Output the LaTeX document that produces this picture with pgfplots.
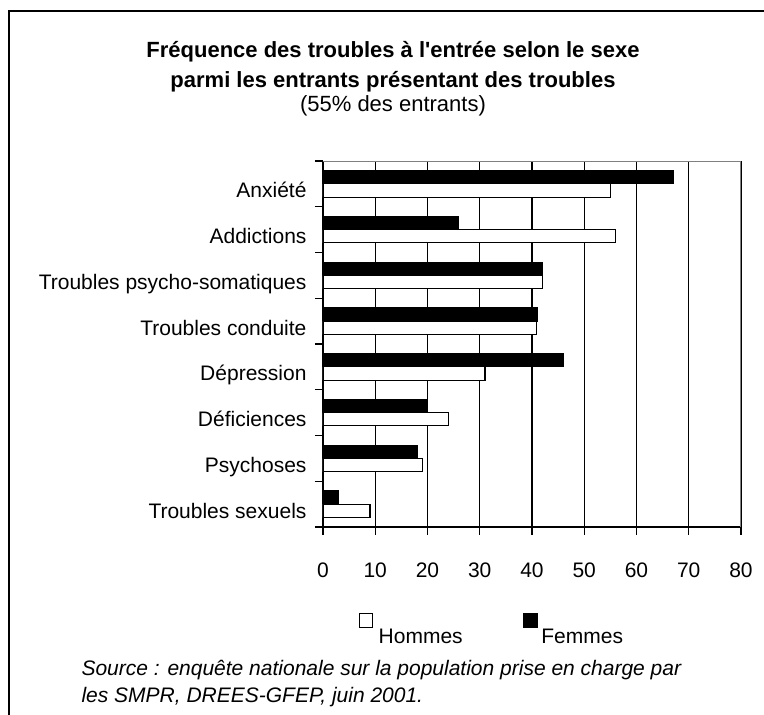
\documentclass[border=0pt]{standalone}
\usepackage{fontspec}
\setmainfont{Liberation Sans}
\usepackage{pgfplots}
\pgfplotsset{compat=1.18}
\newcommand\fs{\fontsize{21}{25}\selectfont}
\begin{document}
\begin{tikzpicture}
\useasboundingbox (0pt,0pt) rectangle (764pt,715pt);
\fill[white] (0pt,0pt) rectangle (764pt,715pt);
\draw[line width=2pt] (9pt,-5pt) -- (9pt,703.5pt) -- (770pt,703.5pt);
\node[anchor=base, font=\bfseries\fontsize{22}{26}\selectfont] at (393pt,657pt) {Fréquence des troubles à l\textquotesingle entrée selon le sexe};
\node[anchor=base, font=\bfseries\fontsize{22}{26}\selectfont] at (393pt,627pt) {parmi les entrants présentant des troubles};
\node[anchor=base, font=\fontsize{22}{26}\selectfont] at (393pt,603pt) {(55\% des entrants)};
\node[anchor=base west, font=\itshape\fs] at (78pt,39pt) {Source : enquête nationale sur la population prise en charge par};
\node[anchor=base west, font=\itshape\fs] at (78pt,12pt) {les SMPR, DREES-GFEP, juin 2001.};
\begin{axis}[
  at={(323pt,188pt)}, anchor=south west,
  width=418pt, height=366pt, scale only axis,
  xmin=0, xmax=80, ymin=-0.5, ymax=7.5,
  axis x line*=bottom, axis y line*=left,
  axis line style={-, line width=1.2pt, black},
  xtick={0,10,...,80},
  xmajorgrids, grid style={black, line width=1.2pt},
  tick align=outside, major tick length=8pt,
  tick style={black, line width=1.2pt},
  /pgf/number format/assume math mode=true,
  tick label style={font=\fs},
  xticklabel style={anchor=base, yshift=-43pt},
  ytick={-0.5,0.5,...,7.5}, yticklabels={,,,,,,,,,},
  extra y ticks={0,1,2,3,4,5,6,7},
  extra y tick labels={Troubles sexuels, Psychoses, Déficiences, Dépression, Troubles conduite, Troubles psycho-somatiques, Addictions, Anxiété},
  extra y tick style={major tick length=0pt, yticklabel style={anchor=base east, yshift=-14pt, xshift=-13pt}},
  legend columns=2,
  legend style={draw=none, fill=none, inner sep=0pt, at={(0.086,-0.235)}, anchor=north west, font=\fs, /tikz/every even column/.append style={column sep=58pt}},
]
\addplot[xbar, bar width=0.29, bar shift=-0.145, fill=white, draw=black, line width=1.2pt,
  legend image code/.code={\draw[fill=white, draw=black, line width=1.2pt] (0pt,9pt) rectangle (13pt,23pt); \path[draw=none, fill=none] (13pt,9pt) -- (17pt,9pt);}]
  coordinates {(9,0) (19,1) (24,2) (31,3) (40.8,4) (42,5) (56,6) (55,7)};
\addlegendentry{Hommes}
\addplot[xbar, bar width=0.29, bar shift=0.145, fill=black, draw=black, line width=1.2pt,
  legend image code/.code={\draw[fill=black, draw=black, line width=1.2pt] (0pt,9pt) rectangle (14pt,23pt); \path[draw=none, fill=none] (14pt,9pt) -- (16pt,9pt);}]
  coordinates {(3,0) (18,1) (20,2) (46,3) (41,4) (42,5) (26,6) (67,7)};
\addlegendentry{Femmes}
\draw[gray, line width=2pt] (rel axis cs:0,1) -- (rel axis cs:1,1) -- (rel axis cs:1,0);
\end{axis}
\end{tikzpicture}
\end{document}
